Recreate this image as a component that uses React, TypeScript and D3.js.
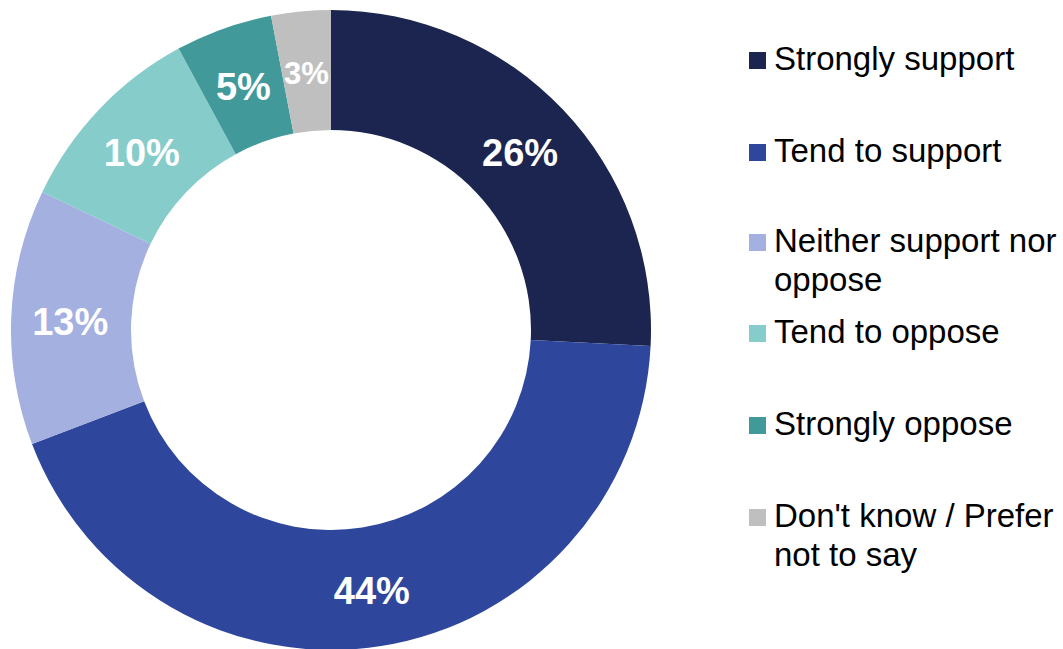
import React from "react";
import * as d3 from "d3";

const categories = [
  "Strongly support",
  "Tend to support",
  "Neither support nor oppose",
  "Tend to oppose",
  "Strongly oppose",
  "Don't know / Prefer not to say",
];
const legendLines = [
  ["Strongly support"],
  ["Tend to support"],
  ["Neither support nor", "oppose"],
  ["Tend to oppose"],
  ["Strongly oppose"],
  ["Don't know / Prefer", "not to say"],
];
const values = [25.8, 43.4, 12.9, 10.0, 4.9, 3.0];
const labels = ["26%", "44%", "13%", "10%", "5%", "3%"];
const colors = ["#1B2550", "#2E479C", "#A3B0E0", "#86CCCB", "#419A99", "#BFBFBF"];

export default function App() {
  const W = 1063, H = 649;
  const cx = 331, cy = 330, R = 320, r = 200;
  const pie = d3.pie<number>().sort(null).value((d) => d);
  const arcs = pie(values);
  const arc = d3.arc<d3.PieArcDatum<number>>().innerRadius(r).outerRadius(R);
  const labelArc = d3.arc<d3.PieArcDatum<number>>().innerRadius(r).outerRadius(R + 2);
  const baselines = [70, 162, 252, 343, 435, 527];
  return (
    <svg width={W} height={H} style={{ position: "absolute", left: 0, top: 0 }}
      fontFamily="'Liberation Sans', Arial, sans-serif">
      <g transform={`translate(${cx},${cy})`}>
        {arcs.map((a, i) => (
          <path key={i} d={arc(a) || ""} fill={colors[i]} />
        ))}
        {arcs.map((a, i) => {
          const [x, y] = labelArc.centroid(a);
          const small = i === 5;
          return (
            <text key={"l" + i} x={x} y={y + 3} textAnchor="middle" dominantBaseline="central"
              fill="#fff" fontWeight="bold" fontSize={small ? 31 : 38}>
              {labels[i]}
            </text>
          );
        })}
      </g>
      <g>
        {legendLines.map((lines, i) => (
          <g key={"g" + i}>
            <rect x={749} y={baselines[i] - 18} width={17} height={17} fill={colors[i]} />
            <text x={774} y={baselines[i]} fontSize={33} fill="#000">
              {lines.map((t, j) => (
                <tspan key={j} x={774} dy={j === 0 ? 0 : 39}>{t}</tspan>
              ))}
            </text>
          </g>
        ))}
      </g>
    </svg>
  );
}
